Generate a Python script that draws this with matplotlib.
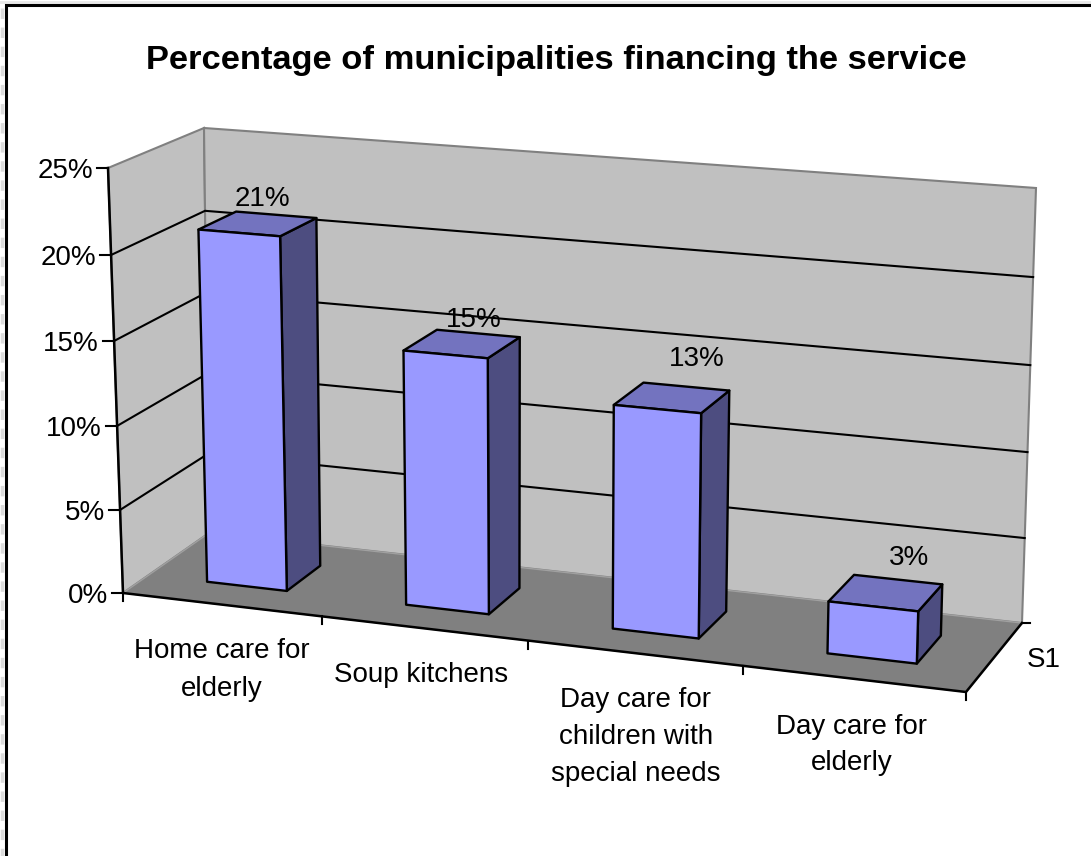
import numpy as np
import matplotlib
matplotlib.use("Agg")
import matplotlib.pyplot as plt
from matplotlib.patches import Polygon

plt.rcParams["font.family"] = ["Liberation Sans", "DejaVu Sans"]

# Data
categories = ["Home care for\nelderly", "Soup kitchens",
              "Day care for\nchildren with\nspecial needs", "Day care for\nelderly"]
values = [21, 15, 13, 3]
value_labels = ["21%", "15%", "13%", "3%"]
y_ticks = [0, 5, 10, 15, 20, 25]
y_tick_labels = ["0%", "5%", "10%", "15%", "20%", "25%"]
series_name = "S1"
title = "Percentage of municipalities financing the service"

# Calibration of the 3D box: (category pos, value, depth) -> pixel
box_3d = np.array([(0, 0, 0), (0, 25, 0), (0, 0, 1), (0, 25, 1), (4, 25, 1), (4, 0, 1),
                   (4, 0, 0), (1, 0, 0), (2, 0, 0), (3, 0, 0), (0, 10, 0), (0, 20, 0)], float)
box_px = np.array([(123, 593), (108, 168), (209, 533), (204, 128), (1036, 188), (1022, 623),
                   (966, 692), (322, 617), (527, 642), (742, 667), (118, 427), (112, 255)], float)

# Fit a projection matrix
rows = []
for (u, v, w), (px, py) in zip(box_3d, box_px):
    rows.append([u, v, w, 1, 0, 0, 0, 0, -px * u, -px * v, -px * w, -px])
    rows.append([0, 0, 0, 0, u, v, w, 1, -py * u, -py * v, -py * w, -py])
P = np.linalg.svd(np.array(rows))[2][-1].reshape(3, 4)


def raw_proj(u, v, w):
    x, y, s = P @ np.array([u, v, w, 1.0])
    return np.array([x / s, y / s])


# Excel's box is not a true perspective, so pull the corners back onto the picture
res = {}
for (u, v, w), px in zip(box_3d[:7], box_px[:7]):
    res[(int(u / 4), int(v / 25), int(w))] = px - raw_proj(u, v, w)
res[(1, 1, 0)] = res[(1, 0, 0)]


def proj(u, v, w):
    a, b = u / 4, v / 25
    d = np.zeros(2)
    for (i, j, k), r in res.items():
        d = d + r * (a if i else 1 - a) * (b if j else 1 - b) * (w if k else 1 - w)
    return tuple(raw_proj(u, v, w) + d)


fig = plt.figure(figsize=(10.91, 8.56), dpi=100)
ax = fig.add_axes([0, 0, 1, 1])
ax.set_xlim(0, 1091)
ax.set_ylim(856, 0)
ax.axis("off")

# Outer frame and the hatched edge of the selection
ax.plot([0, 1091], [1.5, 1.5], color="#e8e8e8", lw=2)
ax.plot([1.5, 1.5], [8, 856], color="#dcdcdc", lw=2.5, ls=(0, (3, 2.5)))
ax.plot([6, 6, 1091], [856, 5, 5], color="black", lw=2.2, solid_joinstyle="miter")

# Walls and floor
ymax = y_ticks[-1]
wall = dict(facecolor="#c0c0c0", edgecolor="#808080", lw=1.5, zorder=1)
ax.add_patch(Polygon([proj(0, 0, 0), proj(0, ymax, 0), proj(0, ymax, 1), proj(0, 0, 1)], **wall))
ax.add_patch(Polygon([proj(0, 0, 1), proj(0, ymax, 1), proj(4, ymax, 1), proj(4, 0, 1)], **wall))
ax.add_patch(Polygon([proj(0, 0, 0), proj(0, 0, 1), proj(4, 0, 1), proj(4, 0, 0)],
                     facecolor="#808080", edgecolor="#a0a0a0", lw=1, zorder=2))

# Gridlines
for t in y_ticks[1:-1]:
    pts = np.array([proj(0, t, 0), proj(0, t, 1), proj(4, t, 1)])
    ax.plot(pts[:, 0], pts[:, 1], color="black", lw=1.5, zorder=3)

# Axis lines and ticks
edge = np.array([proj(0, ymax, 0), proj(0, 0, 0), proj(4, 0, 0), proj(4, 0, 1)])
ax.plot(edge[:, 0], edge[:, 1], color="black", lw=1.8, zorder=4)
for t, lab in zip(y_ticks, y_tick_labels):
    x, y = proj(0, t, 0)
    ax.plot([x - 11, x], [y, y], color="black", lw=1.5, zorder=4)
    ax.text(x - 15, y + 3, lab, ha="right", va="center", fontsize=20, color="black")
for i in range(5):
    x, y = proj(i, 0, 0)
    ax.plot([x, x], [y, y + 8], color="black", lw=1.5, zorder=4)
x, y = proj(4, 0, 1)
ax.plot([x, x + 8], [y, y], color="black", lw=1.5, zorder=4)
ax.text(x + 5, y + 37, series_name, ha="left", va="center", fontsize=20)

# Bars
bar_lo, bar_hi = 0.3, 0.705
depth_lo, depth_hi = 0.29, 0.70
line = dict(edgecolor="black", lw=1.7, joinstyle="round")
for i, val in enumerate(values):
    u0, u1 = i + bar_lo, i + bar_hi
    z = 5 + i
    ax.add_patch(Polygon([proj(u1, 0, depth_lo), proj(u1, val, depth_lo),
                          proj(u1, val, depth_hi), proj(u1, 0, depth_hi)],
                         facecolor="#4d4d80", zorder=z, **line))
    ax.add_patch(Polygon([proj(u0, val, depth_lo), proj(u0, val, depth_hi),
                          proj(u1, val, depth_hi), proj(u1, val, depth_lo)],
                         facecolor="#7373bf", zorder=z, **line))
    ax.add_patch(Polygon([proj(u0, 0, depth_lo), proj(u0, val, depth_lo),
                          proj(u1, val, depth_lo), proj(u1, 0, depth_lo)],
                         facecolor="#9999ff", zorder=z, **line))

# Value labels
label_pos = [(262, 199), (474, 320), (697, 359), (909, 558)]
for (x, y), lab in zip(label_pos, value_labels):
    ax.text(x, y, lab, ha="center", va="center", fontsize=20, zorder=20)

# Category labels
cat_pos = [(222, 670), (421, 675), (636, 737), (852, 745)]
for (x, y), lab in zip(cat_pos, categories):
    ax.text(x, y, lab, ha="center", va="center", fontsize=20, linespacing=1.55, zorder=20)

ax.text(556, 60, title, ha="center", va="center", fontsize=24.8, fontweight="bold", zorder=20)

fig.savefig("out.png", dpi=100)
